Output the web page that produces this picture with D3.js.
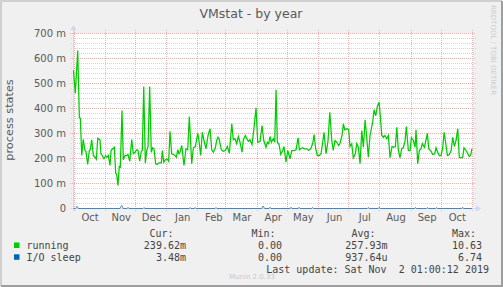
<!DOCTYPE html>
<html>
<head>
<meta charset="utf-8">
<script src="https://cdn.jsdelivr.net/npm/d3@7"></script>
<style>
body { margin: 0; background: #f0f0f0; }
text { font-family: "DejaVu Sans", sans-serif; }
.mono { font-family: "DejaVu Sans Mono", monospace; }
</style>
</head>
<body>
<div id="chart"></div>
<script>
// Day offsets (from Oct 1 2018) and values in milli-processes for "running"
var runDay = [0, 1.8, 4.2, 5.8, 6.8, 8.2, 9.7, 11.4, 12.4, 14.1, 15.7, 16.7, 18.1, 19.7, 21.4, 22.7, 24.1, 25.3, 26.3, 27.3,
    28.6, 30.3, 32.0, 33.3, 34.6, 36.3, 37.3, 39.0, 40.6, 41.9, 42.9, 44.2, 45.5, 46.5, 48.2, 49.5, 51.2, 52.9, 54.2, 55.9,
    57.9, 59.4, 61.1, 62.8, 64.1, 65.8, 67.4, 68.4, 69.8, 71.4, 72.8, 74.1, 75.7, 77.3, 78.7, 80.0, 81.7, 83.0, 85.0, 87.3,
    88.3, 89.7, 91.3, 92.9, 94.6, 95.9, 97.6, 99.2, 100.9, 102.2, 103.6, 104.9, 105.9, 107.6, 109.8, 111.8, 113.5, 115.1, 117.5, 119.1,
    121.1, 123.5, 124.7, 126.4, 128.0, 129.7, 131.7, 133.7, 135.7, 137.4, 139.0, 141.0, 142.3, 143.6, 144.9, 146.9, 148.9, 150.9, 152.9, 154.9,
    157.3, 158.8, 160.5, 162.2, 163.8, 165.5, 167.5, 168.8, 170.8, 172.2, 173.8, 175.4, 177.4, 179.4, 181.4, 183.1, 185.4, 187.4, 189.1, 191.3,
    192.6, 194.0, 195.3, 196.6, 198.6, 200.0, 201.3, 202.6, 204.3, 206.0, 207.9, 209.2, 211.2, 212.9, 215.2, 216.9, 219.2, 221.2, 223.2, 224.5,
    225.8, 227.8, 229.1, 231.8, 233.8, 235.8, 237.8, 239.1, 240.7, 242.3, 244.3, 246.0, 247.7, 249.0, 251.0, 253.0, 254.7, 256.7, 258.2, 259.9,
    261.6, 263.6, 264.9, 266.9, 268.2, 269.6, 271.6, 273.5, 274.8, 276.5, 278.1, 280.1, 281.5, 283.1, 284.8, 286.5, 288.1, 289.8, 291.4, 293.0,
    294.7, 296.0, 297.4, 298.7, 300.4, 302.0, 303.7, 304.6, 306.4, 307.9, 309.6, 311.3, 312.9, 314.6, 316.6, 317.9, 319.9, 321.3, 322.9, 324.5,
    326.2, 327.8, 329.5, 330.8, 332.8, 334.5, 335.8, 337.8, 339.5, 340.4, 342.1, 343.7, 345.4, 346.7, 348.7, 350.4, 351.7, 353.1, 355.4, 357.0,
    359.0, 360.3, 362.0, 363.6, 365.3, 367.0, 368.3, 370.0, 371.6, 373.5, 375.3, 376.9, 378.5, 380.2, 381.9, 383.4, 385.1, 386.8, 388.1, 390.1,
    391.7, 393.3, 394.7, 396.0];
var runVal = [552, 461, 632, 365, 360, 212, 277, 232, 228, 176, 232, 235, 275, 212, 205, 197, 281, 277, 275, 219,
    212, 199, 211, 205, 212, 172, 232, 239, 245, 143, 136, 92, 168, 165, 392, 195, 212, 212, 216, 189,
    276, 219, 225, 235, 232, 189, 229, 232, 488, 181, 232, 248, 488, 225, 243, 239, 179, 176, 183, 183,
    232, 185, 195, 199, 189, 309, 219, 216, 212, 205, 235, 219, 225, 252, 172, 239, 235, 368, 179, 243,
    248, 301, 272, 212, 305, 272, 239, 292, 319, 235, 225, 243, 272, 285, 275, 235, 229, 232, 248, 221,
    339, 275, 279, 259, 288, 265, 225, 275, 292, 279, 269, 275, 256, 323, 403, 265, 269, 332, 272, 245,
    265, 259, 288, 265, 279, 265, 475, 265, 256, 216, 232, 248, 185, 232, 199, 232, 232, 235, 283, 235,
    239, 243, 239, 239, 232, 239, 261, 296, 239, 212, 212, 219, 265, 305, 219, 272, 385, 272, 232, 272,
    265, 252, 261, 292, 339, 315, 319, 315, 248, 259, 203, 219, 259, 245, 179, 312, 245, 355, 285, 205,
    292, 319, 347, 395, 371, 408, 425, 385, 292, 285, 292, 279, 292, 203, 248, 245, 248, 325, 232, 203,
    239, 243, 269, 328, 232, 232, 283, 272, 245, 315, 179, 232, 239, 259, 245, 275, 301, 239, 229, 216,
    219, 243, 225, 212, 212, 245, 305, 259, 212, 216, 232, 285, 248, 272, 319, 205, 203, 205, 243, 232,
    221, 208, 212, 239];

// Day offsets and values (milli) for "I/O sleep"
var ioDay = [0, 2, 3.5, 5, 46, 47.9, 49.5, 53, 54.2, 55.5, 69, 70, 71, 115, 115.8, 116.8, 120, 120.8, 121.8, 140.6,
    141.6, 142.6, 187, 188.4, 190, 194.3, 195.3, 196.3, 215.2, 216.2, 217.2, 223.2, 224.2, 225.2, 236.7, 237.7, 238.7, 291.9, 292.9, 293.9,
    302.9, 303.9, 304.9, 338.9, 339.9, 340.9, 350.8, 351.8, 352.8, 359.8, 360.8, 361.8, 385.7, 386.7, 387.7, 396];
var ioVal = [0, 0, 9, 0, 0, 12, 0, 0, 4, 0, 0, 4, 0, 0, 4, 0, 0, 4, 0, 0,
    4, 0, 0, 10, 0, 0, 5, 0, 0, 5, 0, 0, 5, 0, 0, 4, 0, 0, 4, 0,
    0, 5, 0, 0, 4, 0, 0, 4, 0, 0, 4, 0, 0, 5, 0, 0];

var yTicks = [0, 100, 200, 300, 400, 500, 600, 700];
var yTickLabels = ["0", "100 m", "200 m", "300 m", "400 m", "500 m", "600 m", "700 m"];

// Legend table
var legendNames = ["running", "I/O sleep"];
var curVals = ["239.62m", "3.48m"];
var minVals = ["0.00", "0.00"];
var avgVals = ["257.93m", "937.64u"];
var maxVals = ["10.63", "6.74"];
var lastUpdate = "Last update: Sat Nov  2 01:00:12 2019";

var colors = ["#00cc00", "#0066b3"];

var W = 503, H = 287;
var svg = d3.select("#chart").append("svg")
    .attr("width", W)
    .attr("height", H);

// background + 3d frame
svg.append("rect").attr("width", W).attr("height", H).attr("fill", "#f0f0f0");
svg.append("path").attr("d", "M1,286V1H502").attr("fill", "none").attr("stroke", "#cfcfcf").attr("stroke-width", 2);
svg.append("path").attr("d", "M1,286H502V1").attr("fill", "none").attr("stroke", "#9e9e9e").attr("stroke-width", 2);

// Scales
var t0 = new Date(Date.UTC(2018, 9, 1)),
    t1 = new Date(Date.UTC(2019, 10, 2, 1));
var x = d3.scaleUtc().domain([t0, t1]).range([73.5, 473]);
var y = d3.scaleLinear().domain([0, 700]).range([208.5, 33.5]);
var dayToDate = function(d) { return new Date(t0.getTime() + d * 864e5); };

// canvas
svg.append("rect")
    .attr("x", 73).attr("y", 33)
    .attr("width", 400).attr("height", 175)
    .attr("fill", "#ffffff");

// minor horizontal grid every 20 m
var minor = d3.range(20, 700, 20).filter(function(v) { return v % 100 !== 0; });
svg.append("g").selectAll("line")
    .data(minor)
    .enter().append("line")
    .attr("x1", 71).attr("x2", 476)
    .attr("y1", function(d) { return y(d); })
    .attr("y2", function(d) { return y(d); })
    .attr("stroke", "#d4d4d4")
    .attr("stroke-dasharray", "1,1");

// major horizontal grid
svg.append("g").selectAll("line")
    .data(yTicks.slice(1))
    .enter().append("line")
    .attr("x1", 70).attr("x2", 476)
    .attr("y1", function(d) { return y(d); })
    .attr("y2", function(d) { return y(d); })
    .attr("stroke", "#f3b0b0")
    .attr("stroke-dasharray", "1,1");

// month lines
var months = d3.utcMonth.range(t0, t1);
svg.append("g").selectAll("line")
    .data(months)
    .enter().append("line")
    .attr("x1", function(d) { return Math.round(x(d)) + 0.5; })
    .attr("x2", function(d) { return Math.round(x(d)) + 0.5; })
    .attr("y1", 30).attr("y2", 212)
    .attr("stroke", "#f3b0b0")
    .attr("stroke-dasharray", "1,1");

// axes
svg.append("line").attr("x1", 70).attr("x2", 477).attr("y1", 208.5).attr("y2", 208.5).attr("stroke", "#cfd6f8");
svg.append("line").attr("x1", 73.5).attr("x2", 73.5).attr("y1", 211).attr("y2", 29).attr("stroke", "#cfd6f8");
svg.append("path").attr("d", "M476,205.5L481,208.5L476,211.5Z").attr("fill", "#cfd6f8");
svg.append("path").attr("d", "M70.5,30L73.5,25L76.5,30Z").attr("fill", "#cfd6f8");

// series
var line = d3.line()
    .x(function(d) { return x(dayToDate(d[0])); })
    .y(function(d) { return y(d[1]); });

svg.append("path")
    .datum(d3.zip(ioDay, ioVal))
    .attr("d", line)
    .attr("fill", "none")
    .attr("stroke", colors[1])
    .attr("stroke-opacity", 0.7)
    .attr("stroke-width", 1);

svg.append("path")
    .datum(d3.zip(runDay, runVal))
    .attr("d", line)
    .attr("fill", "none")
    .attr("stroke", colors[0])
    .attr("stroke-width", 1.25);

// y tick labels
svg.append("g").selectAll("text")
    .data(yTicks)
    .enter().append("text")
    .attr("x", 66)
    .attr("y", function(d) { return y(d); })
    .attr("dy", "0.36em")
    .attr("text-anchor", "end")
    .style("font-size", "10px")
    .attr("fill", "#5a5a5a")
    .text(function(d, i) { return yTickLabels[i]; });

// x labels centred in each month
var labelMonths = months.map(function(m) { return d3.utcHour.offset(m, 16 * 24 + 12); })
    .filter(function(d) { return d < t1; });
svg.append("g").selectAll("text")
    .data(labelMonths)
    .enter().append("text")
    .attr("x", function(d) { return x(d); })
    .attr("y", 221)
    .attr("text-anchor", "middle")
    .style("font-size", "10px")
    .attr("fill", "#5a5a5a")
    .text(d3.utcFormat("%b"));

// title
svg.append("text")
    .attr("x", 251).attr("y", 17.5)
    .attr("text-anchor", "middle")
    .style("font-size", "12.5px")
    .attr("fill", "#5a5a5a")
    .text("VMstat - by year");

// vertical axis title
svg.append("text")
    .attr("transform", "translate(13,120) rotate(-90)")
    .attr("text-anchor", "middle")
    .style("font-size", "11.3px")
    .attr("fill", "#5a5a5a")
    .text("process states");

// watermarks
svg.append("text")
    .attr("transform", "translate(490.5,5) rotate(90)")
    .style("font-size", "7px")
    .attr("fill", "#cccccc")
    .text("RRDTOOL / TOBI OETIKER");
svg.append("text")
    .attr("x", 252).attr("y", 279)
    .attr("text-anchor", "middle")
    .style("font-size", "7px")
    .attr("fill", "#c8c8c8")
    .text("Munin 2.0.33");

// legend
var lg = svg.append("g").attr("class", "mono").style("font-size", "10px").attr("fill", "#444");
var headers = [["Cur:", 173.5], ["Min:", 275.5], ["Avg:", 375.5], ["Max:", 476]];
headers.forEach(function(h) {
    lg.append("text").attr("class", "mono").attr("x", h[1]).attr("y", 237).attr("text-anchor", "end").text(h[0]);
});
var cols = [[curVals, 186], [minVals, 282], [avgVals, 387.5], [maxVals, 482]];
legendNames.forEach(function(name, i) {
    var yy = 249 + i * 11.8;
    lg.append("rect").attr("x", 14).attr("y", yy - 6.5).attr("width", 5.5).attr("height", 5.5).attr("fill", colors[i]);
    lg.append("text").attr("class", "mono").attr("x", 26.5).attr("y", yy).text(name);
    cols.forEach(function(c) {
        lg.append("text").attr("class", "mono").attr("x", c[1]).attr("y", yy).attr("text-anchor", "end").text(c[0][i]);
    });
});
lg.append("text").attr("class", "mono")
    .attr("x", 489).attr("y", 272.5)
    .attr("text-anchor", "end")
    .style("white-space", "pre")
    .text(lastUpdate);
</script>
</body>
</html>
